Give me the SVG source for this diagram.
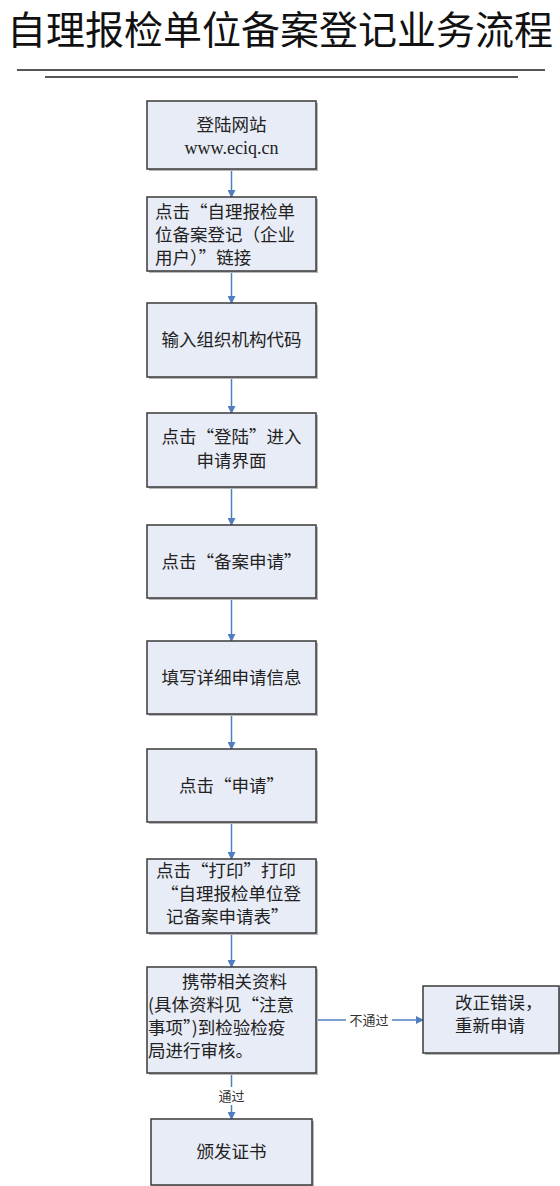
<svg xmlns="http://www.w3.org/2000/svg" width="560" height="1186" viewBox="0 0 560 1186">
<style>
.box{fill:#e8ecf6;stroke:#3a3a3a;stroke-width:1.5}
.sh{fill:#b8b8b8}
.t{font-family:"Noto Sans CJK SC","Liberation Serif",sans-serif;font-size:17.5px;fill:#222}
.ts{font-family:"Liberation Serif","Noto Sans CJK SC",serif;font-size:18px;fill:#222}
.c{text-anchor:middle}
.lbl{font-family:"Noto Sans CJK SC",sans-serif;font-size:13px;fill:#333;text-anchor:middle}
.ln{stroke:#4f7fc0;stroke-width:1.5;fill:none}
</style>
<defs>
<marker id="ah" markerWidth="8" markerHeight="8" refX="7" refY="4" orient="auto" markerUnits="userSpaceOnUse">
<path d="M0,0 L8,4 L0,8 Z" fill="#4f7fc0"/>
</marker>
</defs>
<rect width="560" height="1186" fill="#ffffff"/>
<g id="title">
<text x="280" y="44" text-anchor="middle" font-family="'Noto Sans CJK SC', sans-serif" font-size="39" textLength="546" lengthAdjust="spacingAndGlyphs" fill="#111">自理报检单位备案登记业务流程</text>
<line x1="17" y1="70" x2="545" y2="70" stroke="#555" stroke-width="2"/>
<line x1="45" y1="77" x2="518" y2="77" stroke="#555" stroke-width="2"/>
</g>
<g id="connectors">
<line class="ln" x1="231.5" y1="169" x2="231.5" y2="197" marker-end="url(#ah)"/>
<line class="ln" x1="231.5" y1="271" x2="231.5" y2="303" marker-end="url(#ah)"/>
<line class="ln" x1="231.5" y1="377" x2="231.5" y2="413" marker-end="url(#ah)"/>
<line class="ln" x1="231.5" y1="487" x2="231.5" y2="525" marker-end="url(#ah)"/>
<line class="ln" x1="231.5" y1="598" x2="231.5" y2="641" marker-end="url(#ah)"/>
<line class="ln" x1="231.5" y1="714" x2="231.5" y2="749" marker-end="url(#ah)"/>
<line class="ln" x1="231.5" y1="822" x2="231.5" y2="859" marker-end="url(#ah)"/>
<line class="ln" x1="231.5" y1="933" x2="231.5" y2="967" marker-end="url(#ah)"/>
<line class="ln" x1="231.5" y1="1073" x2="231.5" y2="1119" marker-end="url(#ah)"/>
<line class="ln" x1="316" y1="1020" x2="423" y2="1020" marker-end="url(#ah)"/>
<rect x="346" y="1011" width="46" height="18" fill="#fff"/>
<text class="lbl" x="369" y="1025">不通过</text>
<rect x="214" y="1087" width="35" height="18" fill="#fff"/>
<text class="lbl" x="231.5" y="1101">通过</text>
</g>
<g id="n1">
<rect class="sh" x="149" y="103" width="169" height="68"/>
<rect class="box" x="147" y="101" width="169" height="68"/>
<text class="t c" x="231.5" y="131">登陆网站</text>
<text class="ts c" x="231.5" y="154">www.eciq.cn</text>
</g>
<g id="n2">
<rect class="sh" x="149" y="199" width="169" height="74"/>
<rect class="box" x="147" y="197" width="169" height="74"/>
<text class="t" x="155" y="218">点击“自理报检单</text>
<text class="t" x="155" y="241">位备案登记（企业</text>
<text class="t" x="155" y="264">用户）”链接</text>
</g>
<g id="n3">
<rect class="sh" x="149" y="305" width="169" height="74"/>
<rect class="box" x="147" y="303" width="169" height="74"/>
<text class="t c" x="231.5" y="346">输入组织机构代码</text>
</g>
<g id="n4">
<rect class="sh" x="149" y="415" width="169" height="74"/>
<rect class="box" x="147" y="413" width="169" height="74"/>
<text class="t c" x="231.5" y="443">点击“登陆”进入</text>
<text class="t c" x="231.5" y="467">申请界面</text>
</g>
<g id="n5">
<rect class="sh" x="149" y="527" width="169" height="73"/>
<rect class="box" x="147" y="525" width="169" height="73"/>
<text class="t c" x="231.5" y="568">点击“备案申请”</text>
</g>
<g id="n6">
<rect class="sh" x="149" y="643" width="169" height="73"/>
<rect class="box" x="147" y="641" width="169" height="73"/>
<text class="t c" x="231.5" y="684">填写详细申请信息</text>
</g>
<g id="n7">
<rect class="sh" x="149" y="751" width="169" height="73"/>
<rect class="box" x="147" y="749" width="169" height="73"/>
<text class="t c" x="231.5" y="792">点击“申请”</text>
</g>
<g id="n8">
<rect class="sh" x="149" y="861" width="169" height="74"/>
<rect class="box" x="147" y="859" width="169" height="74"/>
<text class="t" x="156" y="877">点击“打印”打印</text>
<text class="t" x="161" y="900">“自理报检单位登</text>
<text class="t" x="166" y="923">记备案申请表”</text>
</g>
<g id="n9">
<rect class="sh" x="149" y="969" width="169" height="106"/>
<rect class="box" x="147" y="967" width="169" height="106"/>
<text class="t" x="182" y="988">携带相关资料</text>
<text class="t" x="148" y="1011">(具体资料见“注意</text>
<text class="t" x="148" y="1034">事项”)到检验检疫</text>
<text class="t" x="148" y="1057">局进行审核。</text>
</g>
<g id="n10">
<rect class="sh" x="425" y="988" width="136" height="67"/>
<rect class="box" x="423" y="986" width="136" height="67"/>
<text class="t" x="455" y="1009">改正错误，</text>
<text class="t" x="455" y="1032">重新申请</text>
</g>
<g id="n11">
<rect class="sh" x="153" y="1121" width="161" height="66"/>
<rect class="box" x="151" y="1119" width="161" height="66"/>
<text class="t c" x="231.5" y="1158">颁发证书</text>
</g>
</svg>
